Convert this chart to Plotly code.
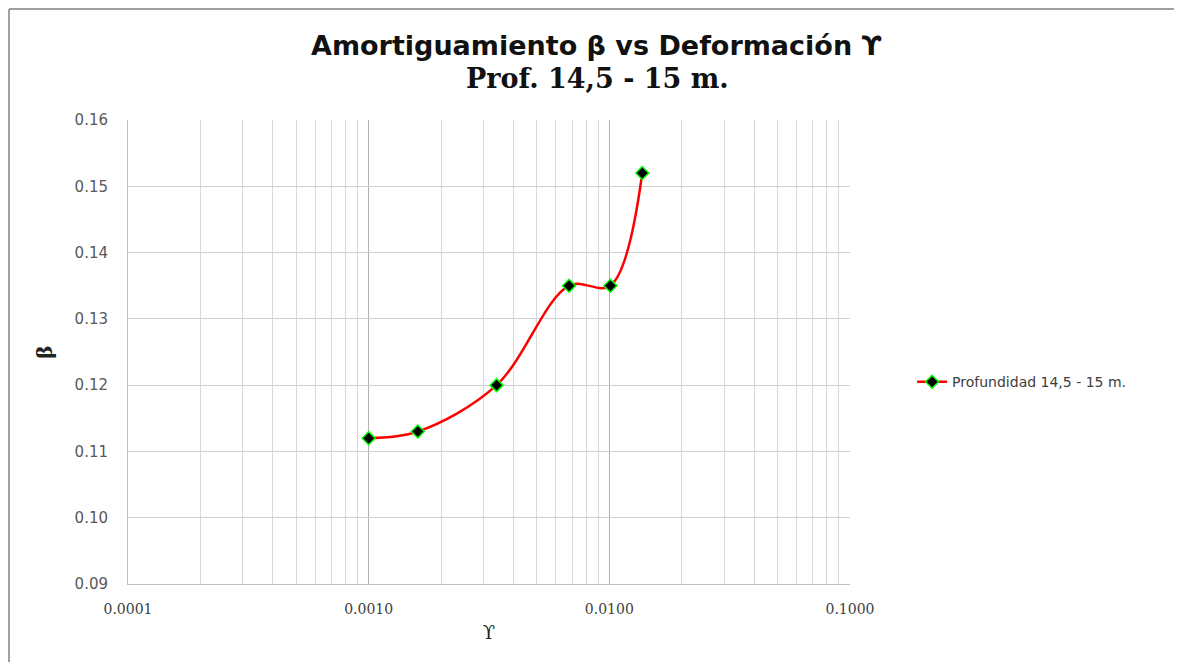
import plotly.graph_objects as go

# deformacion (gamma) y amortiguamiento (beta)
deformacion = [0.0010, 0.0016, 0.0034, 0.0068, 0.0101, 0.0137]
amortiguamiento = [0.112, 0.113, 0.120, 0.135, 0.135, 0.152]
serie = "Profundidad 14,5 - 15 m."

fig = go.Figure()
fig.add_trace(go.Scatter(
    x=deformacion, y=amortiguamiento, name=serie,
    mode="lines+markers",
    line=dict(color="#FF0000", width=2.5, shape="spline", smoothing=1),
    marker=dict(symbol="diamond", size=10, color="black",
                line=dict(color="#00FF00", width=1.5)),
))

fig.update_xaxes(
    type="log", range=[-4, -1], dtick=1, tickformat=".4f",
    showgrid=True, gridcolor="#b0b0b0", gridwidth=1,
    minor=dict(dtick="D1", showgrid=True, gridcolor="#d9d9d9", ticks=""),
    showline=True, linecolor="#bfbfbf", zeroline=False,
    ticks="", ticklabelstandoff=12,
    tickfont=dict(family="DejaVu Serif", size=14, color="#404040"),
    title=dict(text="ϒ", font=dict(family="DejaVu Serif", size=18, color="#222"),
               standoff=10),
)
fig.update_yaxes(
    range=[0.09, 0.16], dtick=0.01, tickformat=".2f",
    showgrid=True, gridcolor="#d0d0d0", gridwidth=1,
    showline=True, linecolor="#bfbfbf", zeroline=False,
    ticks="", ticklabelstandoff=16,
    tickfont=dict(family="DejaVu Sans", size=15, color="#595959"),
    title=dict(text="<b>β</b>", font=dict(family="DejaVu Serif", size=20, color="#222"),
               standoff=16),
)

fig.add_annotation(text="<b>Amortiguamiento β vs Deformación ϒ</b>",
                   x=0.65, y=1.1616, xref="paper", yref="paper", showarrow=False,
                   yanchor="middle",
                   font=dict(family="DejaVu Sans", size=27, color="#111"))
fig.add_annotation(text="<b>Prof. 14,5 - 15 m.</b>",
                   x=0.65, y=1.0905, xref="paper", yref="paper", showarrow=False,
                   yanchor="middle",
                   font=dict(family="DejaVu Serif", size=27, color="#111"))

# marco del grafico
fig.add_shape(type="line", xref="paper", yref="paper",
              x0=-0.1648, x1=1.5, y0=1.239, y1=1.239,
              line=dict(color="#a0a0a0", width=2))
fig.add_shape(type="line", xref="paper", yref="paper",
              x0=-0.1648, x1=-0.1648, y0=-0.2, y1=1.239,
              line=dict(color="#a0a0a0", width=2))

fig.update_layout(
    width=1182, height=662,
    margin=dict(l=120, r=340, t=112, b=86),
    paper_bgcolor="white", plot_bgcolor="white",
    showlegend=True,
    legend=dict(x=1.086, y=0.435, xanchor="left", yanchor="middle",
                font=dict(family="DejaVu Sans", size=14, color="#404040")),
)

fig.write_html("out.html")
